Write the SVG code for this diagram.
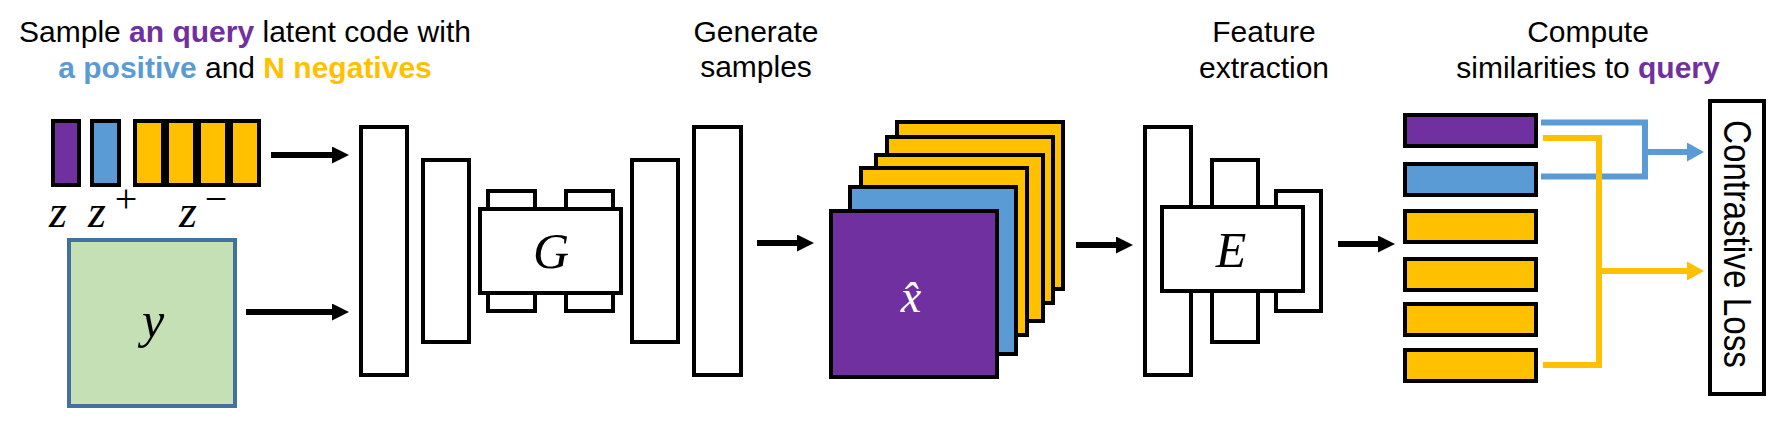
<svg xmlns="http://www.w3.org/2000/svg" width="1786" height="425" viewBox="0 0 1786 425">
<style>
.t{font-family:"Liberation Sans",Arial,sans-serif;font-size:30px;fill:#000}
.b{font-weight:bold}
.pu{fill:#7030A0}.bl{fill:#5B9BD5}.ye{fill:#FFC000}
.m{font-family:"Liberation Serif","Times New Roman",serif;font-style:italic;fill:#000}
.s{font-family:"Liberation Serif","Times New Roman",serif;fill:#000}
.box{fill:#fff;stroke:#000;stroke-width:4}
.P{fill:#7030A0;stroke:#000;stroke-width:4}
.B{fill:#5B9BD5;stroke:#000;stroke-width:4}
.Y{fill:#FFC000;stroke:#000;stroke-width:4}
.arr{stroke:#000;stroke-width:6;fill:none;marker-end:url(#ah)}
.cb{stroke:#5B9BD5;stroke-width:6;fill:none}
.cy{stroke:#FFC000;stroke-width:6;fill:none}
</style>
<defs>
<marker id="ah" markerUnits="userSpaceOnUse" markerWidth="18" markerHeight="18" refX="9" refY="8.5" orient="auto"><path d="M0,0 L17,8.5 L0,17 z" fill="#000"/></marker>
<marker id="ahb" markerUnits="userSpaceOnUse" markerWidth="18" markerHeight="20" refX="9" refY="9.5" orient="auto"><path d="M0,0 L17,9.5 L0,19 z" fill="#5B9BD5"/></marker>
<marker id="ahy" markerUnits="userSpaceOnUse" markerWidth="18" markerHeight="20" refX="9" refY="9.5" orient="auto"><path d="M0,0 L17,9.5 L0,19 z" fill="#FFC000"/></marker>
</defs>
<rect width="1786" height="425" fill="#fff"/>

<g id="title-sample">
<text class="t" x="245" y="42" text-anchor="middle">Sample <tspan class="b pu">an query</tspan> latent code with</text>
<text class="t" x="245" y="78" text-anchor="middle"><tspan class="b bl">a positive</tspan> and <tspan class="b ye">N negatives</tspan></text>
</g>
<g id="title-generate">
<text class="t" x="756" y="42" text-anchor="middle">Generate</text>
<text class="t" x="756" y="77" text-anchor="middle">samples</text>
</g>
<g id="title-feature">
<text class="t" x="1264" y="42" text-anchor="middle">Feature</text>
<text class="t" x="1264" y="78" text-anchor="middle">extraction</text>
</g>
<g id="title-compute">
<text class="t" x="1588" y="42" text-anchor="middle">Compute</text>
<text class="t" x="1588" y="78" text-anchor="middle">similarities to <tspan class="b pu">query</tspan></text>
</g>

<g id="latents">
<rect class="P" x="53" y="121" width="26" height="64"/>
<rect class="B" x="92" y="121" width="27" height="64"/>
<rect class="Y" x="135" y="121" width="28" height="64"/>
<rect class="Y" x="167" y="121" width="28" height="64"/>
<rect class="Y" x="199" y="121" width="28" height="64"/>
<rect class="Y" x="231" y="121" width="28" height="64"/>
<text class="m" x="49" y="227" font-size="46">z</text>
<text class="m" x="88" y="227" font-size="46">z</text>
<text class="s" x="126" y="212" font-size="40" text-anchor="middle">+</text>
<text class="m" x="179" y="227" font-size="46">z</text>
<text class="s" x="216" y="212" font-size="40" text-anchor="middle">−</text>
</g>

<g id="condition-y">
<rect x="69" y="240" width="166" height="166" fill="#C5E0B4" stroke="#41719C" stroke-width="4"/>
<text class="m" x="153" y="337" font-size="50" text-anchor="middle">y</text>
</g>

<g id="generator">
<rect class="box" x="361" y="127" width="46" height="248"/>
<rect class="box" x="423" y="160" width="46" height="182"/>
<rect class="box" x="488" y="191" width="47" height="18"/>
<rect class="box" x="566" y="191" width="47" height="18"/>
<rect class="box" x="488" y="293" width="47" height="18"/>
<rect class="box" x="566" y="293" width="47" height="18"/>
<rect class="box" x="480" y="209" width="141" height="84"/>
<rect class="box" x="632" y="160" width="46" height="182"/>
<rect class="box" x="694" y="127" width="47" height="248"/>
<text class="m" x="551" y="268" font-size="50" text-anchor="middle">G</text>
</g>

<g id="samples">
<rect class="Y" x="897" y="122" width="166" height="167"/>
<rect class="Y" x="887" y="137" width="166" height="166"/>
<rect class="Y" x="876" y="155" width="167" height="166"/>
<rect class="Y" x="861" y="168" width="166" height="167"/>
<rect class="B" x="850" y="187" width="166" height="167"/>
<rect class="P" x="831" y="211" width="166" height="166"/>
<text class="m" x="911" y="312" font-size="46" text-anchor="middle" style="fill:#fff">x̂</text>
</g>

<g id="encoder">
<rect class="box" x="1145" y="127" width="46" height="248"/>
<rect class="box" x="1212" y="160" width="46" height="182"/>
<rect class="box" x="1276" y="191" width="45" height="120"/>
<rect class="box" x="1162" y="207" width="141" height="84"/>
<text class="m" x="1231" y="267" font-size="50" text-anchor="middle">E</text>
</g>

<g id="features">
<rect class="P" x="1405" y="115" width="131" height="31"/>
<rect class="B" x="1405" y="164" width="131" height="31"/>
<rect class="Y" x="1405" y="211" width="131" height="31"/>
<rect class="Y" x="1405" y="259" width="131" height="31"/>
<rect class="Y" x="1405" y="304" width="131" height="31"/>
<rect class="Y" x="1405" y="350" width="131" height="31"/>
</g>

<g id="contrastive-loss">
<rect class="box" x="1710" y="101" width="54" height="293"/>
<text class="t" transform="translate(1724,244) rotate(90)" x="0" y="0" text-anchor="middle" style="font-size:38px" textLength="248" lengthAdjust="spacingAndGlyphs">Contrastive Loss</text>
</g>

<g id="connectors">
<line class="arr" x1="271" y1="155" x2="341" y2="155"/>
<line class="arr" x1="246" y1="312" x2="341" y2="312"/>
<line class="arr" x1="757" y1="243" x2="806" y2="243"/>
<line class="arr" x1="1076" y1="245" x2="1125" y2="245"/>
<line class="arr" x1="1338" y1="244" x2="1387" y2="244"/>
<polyline class="cb" points="1541,122.5 1645,122.5 1645,176.5 1541,176.5"/>
<line class="cb" x1="1645" y1="152" x2="1696" y2="152" stroke-width="5" marker-end="url(#ahb)"/>
<polyline class="cy" points="1543,138 1599,138 1599,365 1543,365"/>
<line class="cy" x1="1599" y1="271" x2="1696" y2="271" stroke-width="5" marker-end="url(#ahy)"/>
</g>
</svg>
